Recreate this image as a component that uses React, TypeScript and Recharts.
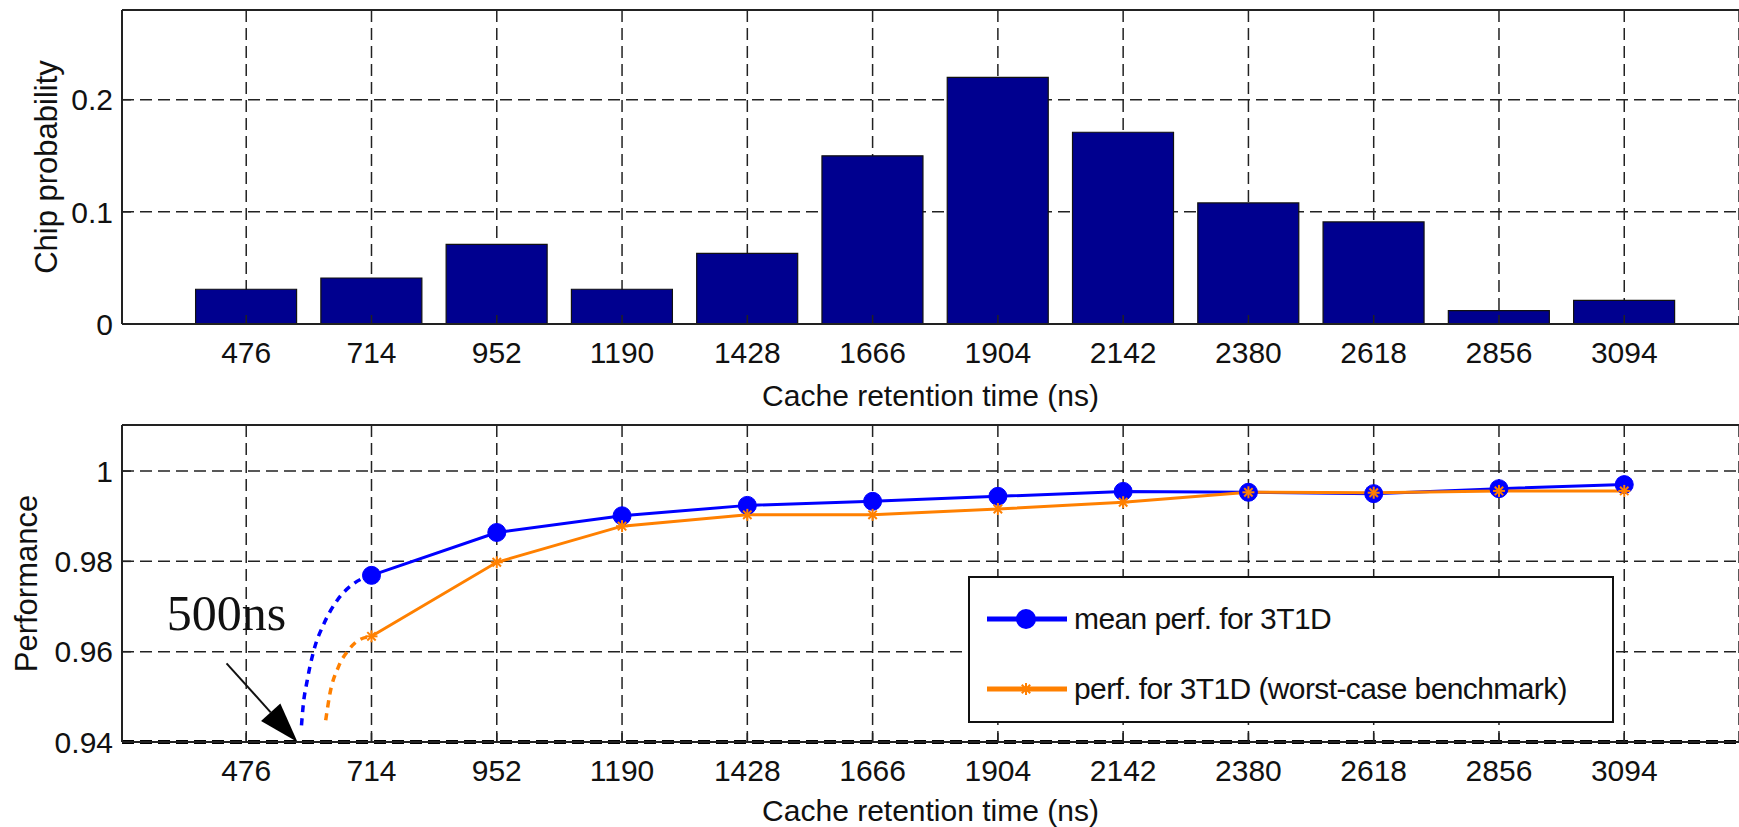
import React from "react";
import {
  BarChart,
  Bar,
  LineChart,
  Line,
  XAxis,
  YAxis,
  CartesianGrid,
  ReferenceLine,
  ReferenceDot,
  Legend,
} from "recharts";

// retention times (ns) used as tick positions on both panels
const RETENTION_TICKS = [476, 714, 952, 1190, 1428, 1666, 1904, 2142, 2380, 2618, 2856, 3094];
const CHIP_PROBABILITY = [0.031, 0.041, 0.071, 0.031, 0.063, 0.15, 0.22, 0.171, 0.108, 0.091, 0.012, 0.021];
const PROB_TICKS = [0, 0.1, 0.2];

const PERF_TIMES = [714, 952, 1190, 1428, 1666, 1904, 2142, 2380, 2618, 2856, 3094];
const MEAN_PERF = [0.9769, 0.9864, 0.9901, 0.9924, 0.9933, 0.9944, 0.9955, 0.9953, 0.995, 0.9961, 0.997];
const WORST_PERF = [0.9634, 0.9798, 0.9878, 0.9903, 0.9903, 0.9916, 0.9931, 0.9953, 0.9952, 0.9956, 0.9956];
const PERF_TICKS = [0.94, 0.96, 0.98, 1];

// dotted extrapolation down to the 500ns limit
const MEAN_TAIL_TIMES = [581, 584, 592, 604.5, 623.6, 649, 680.4, 714];
const MEAN_TAIL = [0.9437, 0.9478, 0.9537, 0.9603, 0.9662, 0.9714, 0.9751, 0.9769];
const WORST_TAIL_TIMES = [627, 635, 651, 670, 689, 714];
const WORST_TAIL = [0.9448, 0.9507, 0.9566, 0.9603, 0.9625, 0.9634];

// annotation
const NOTE_TEXT = "500ns";
const NOTE_AT = [325, 0.9647];
const ARROW_FROM = [438.6, 0.9574];
const ARROW_TO = [573.4, 0.94];

const X_DOMAIN = [240, 3312];
const FONT = "'Liberation Sans', Arial, Helvetica, sans-serif";
const INK = "#111";
const BLUE = "#0000ff";
const ORANGE = "#ff8000";
const GRID = { stroke: "#222", strokeDasharray: "12 6", strokeWidth: 1.5 };
const TICK_STYLE = { fill: INK, fontSize: 30, fontFamily: FONT };
const AXIS_LINE = { stroke: "#222", strokeWidth: 2 };
const TICK_LINE = { stroke: "#222", strokeWidth: 1.5 };

const barData = RETENTION_TICKS.map((t, i) => ({ t, p: CHIP_PROBABILITY[i] }));
const meanData = PERF_TIMES.map((t, i) => ({ t, v: MEAN_PERF[i] }));
const worstData = PERF_TIMES.map((t, i) => ({ t, v: WORST_PERF[i] }));
const meanTail = MEAN_TAIL_TIMES.map((t, i) => ({ t, v: MEAN_TAIL[i] }));
const worstTail = WORST_TAIL_TIMES.map((t, i) => ({ t, v: WORST_TAIL[i] }));

function xTitle(dy: number) {
  return (props: any) => {
    const vb = props.viewBox || { x: 122, y: 0, width: 1617, height: 0 };
    return (
      <text
        x={vb.x + vb.width / 2}
        y={vb.y + dy}
        textAnchor="middle"
        dominantBaseline="central"
        fill={INK}
        fontSize={30}
        fontFamily={FONT}
      >
        Cache retention time (ns)
      </text>
    );
  };
}

function yTitle(text: string, cxPos: number) {
  return (props: any) => {
    const vb = props.viewBox || { x: 0, y: 0, width: 122, height: 300 };
    const cy = vb.y + vb.height / 2;
    return (
      <text
        x={cxPos}
        y={cy}
        transform={`rotate(-90 ${cxPos} ${cy})`}
        textAnchor="middle"
        dominantBaseline="central"
        fill={INK}
        fontSize={31}
        fontFamily={FONT}
      >
        {text}
      </text>
    );
  };
}

function Asterisk({ cx, cy, size = 6 }: { cx?: number; cy?: number; size?: number }) {
  if (cx == null || cy == null) return null;
  const d = size * 0.7;
  return (
    <g stroke={ORANGE} strokeWidth={2}>
      <line x1={cx - size} y1={cy} x2={cx + size} y2={cy} />
      <line x1={cx} y1={cy - size} x2={cx} y2={cy + size} />
      <line x1={cx - d} y1={cy - d} x2={cx + d} y2={cy + d} />
      <line x1={cx - d} y1={cy + d} x2={cx + d} y2={cy - d} />
    </g>
  );
}

function Arrow(props: any) {
  const { x1, y1, x2, y2 } = props;
  if ([x1, y1, x2, y2].some((v) => v == null || isNaN(v))) return null;
  const dx = x2 - x1;
  const dy = y2 - y1;
  const len = Math.hypot(dx, dy) || 1;
  const ux = dx / len;
  const uy = dy / len;
  const bx = x2 - ux * 40;
  const by = y2 - uy * 40;
  const nx = -uy * 13;
  const ny = ux * 13;
  return (
    <g>
      <line x1={x1} y1={y1} x2={bx} y2={by} stroke={INK} strokeWidth={2} />
      <polygon points={`${x2},${y2} ${bx + nx},${by + ny} ${bx - nx},${by - ny}`} fill="#000" />
    </g>
  );
}

function LegendBox() {
  const row = (top: number, color: string, marker: React.ReactNode, label: string) => (
    <div style={{ position: "absolute", left: 0, top: top - 20, height: 40, display: "flex", alignItems: "center" }}>
      <svg width={104} height={40} style={{ display: "block" }}>
        <line x1={17} y1={20} x2={97} y2={20} stroke={color} strokeWidth={5} />
        {marker}
      </svg>
      <span style={{ fontFamily: FONT, fontSize: 30, color: INK, whiteSpace: "nowrap", letterSpacing: -0.6 }}>{label}</span>
    </div>
  );
  return (
    <div
      style={{
        position: "relative",
        width: 646,
        height: 147,
        boxSizing: "border-box",
        border: "2px solid #111",
        background: "#fff",
      }}
    >
      {row(41, BLUE, <circle cx={56} cy={20} r={10} fill={BLUE} />, "mean perf. for 3T1D")}
      {row(111, ORANGE, <Asterisk cx={56} cy={20} size={6} />, "perf. for 3T1D (worst-case benchmark)")}
    </div>
  );
}

export default function App() {
  return (
    <div style={{ position: "absolute", left: 0, top: 0, width: 1739, height: 827, background: "#fff", overflow: "hidden" }}>
      {/* Chip probability histogram */}
      <div style={{ position: "absolute", left: 0, top: 0 }}>
        <BarChart width={1739} height={412} data={barData} margin={{ top: 0, right: 0, bottom: 0, left: 0 }}>
          <CartesianGrid {...GRID} />
          <XAxis
            type="number"
            dataKey="t"
            domain={X_DOMAIN}
            ticks={RETENTION_TICKS}
            interval={0}
            allowDataOverflow
            height={88}
            tickLine={TICK_LINE}
            tickSize={-9}
            tickMargin={27}
            axisLine={AXIS_LINE}
            tick={TICK_STYLE}
            label={xTitle(71)}
          />
          <XAxis
            xAxisId="top"
            orientation="top"
            type="number"
            dataKey="t"
            domain={X_DOMAIN}
            ticks={RETENTION_TICKS}
            interval={0}
            allowDataOverflow
            height={10}
            tick={false}
            tickLine={TICK_LINE}
            tickSize={-9}
            axisLine={AXIS_LINE}
          />
          <YAxis
            type="number"
            domain={[0, 0.28]}
            ticks={PROB_TICKS}
            allowDataOverflow
            width={122}
            tickLine={TICK_LINE}
            tickSize={-9}
            tickMargin={18}
            axisLine={AXIS_LINE}
            tick={TICK_STYLE}
            tickFormatter={(v: number) => String(v)}
            label={yTitle("Chip probability", 46)}
          />
          <Bar dataKey="p" fill="#00008f" stroke="#111" strokeWidth={1.2} barSize={101} isAnimationActive={false} />
        </BarChart>
      </div>

      {/* Performance vs retention time */}
      <div style={{ position: "absolute", left: 0, top: 412 }}>
        <LineChart width={1739} height={415} margin={{ top: 0, right: 0, bottom: 0, left: 0 }}>
          <CartesianGrid {...GRID} />
          <XAxis
            type="number"
            dataKey="t"
            domain={X_DOMAIN}
            ticks={RETENTION_TICKS}
            interval={0}
            allowDataOverflow
            height={85}
            tickLine={TICK_LINE}
            tickSize={-9}
            tickMargin={27}
            axisLine={AXIS_LINE}
            tick={TICK_STYLE}
            label={xTitle(68)}
          />
          <XAxis
            xAxisId="top"
            orientation="top"
            type="number"
            dataKey="t"
            domain={X_DOMAIN}
            ticks={RETENTION_TICKS}
            interval={0}
            allowDataOverflow
            height={13}
            tick={false}
            tickLine={TICK_LINE}
            tickSize={-9}
            axisLine={AXIS_LINE}
          />
          <YAxis
            type="number"
            domain={[0.94, 1.0102]}
            ticks={PERF_TICKS}
            allowDataOverflow
            width={122}
            tickLine={TICK_LINE}
            tickSize={-9}
            tickMargin={18}
            axisLine={AXIS_LINE}
            tick={TICK_STYLE}
            tickFormatter={(v: number) => String(v)}
            label={yTitle("Performance", 26)}
          />
          <ReferenceLine y={0.94} stroke="#000" strokeWidth={4} strokeDasharray="12 6" />
          <Line
            data={meanTail}
            dataKey="v"
            type="monotone"
            stroke={BLUE}
            strokeWidth={3.5}
            strokeDasharray="7 6"
            dot={false}
            isAnimationActive={false}
            legendType="none"
          />
          <Line
            data={worstTail}
            dataKey="v"
            type="monotone"
            stroke={ORANGE}
            strokeWidth={3.5}
            strokeDasharray="7 6"
            dot={false}
            isAnimationActive={false}
            legendType="none"
          />
          <Line
            data={meanData}
            dataKey="v"
            name="mean perf. for 3T1D"
            type="linear"
            stroke={BLUE}
            strokeWidth={3}
            dot={{ r: 9, fill: BLUE, stroke: BLUE, strokeWidth: 1 }}
            isAnimationActive={false}
          />
          <Line
            data={worstData}
            dataKey="v"
            name="perf. for 3T1D (worst-case benchmark)"
            type="linear"
            stroke={ORANGE}
            strokeWidth={3}
            dot={(p: any) => <Asterisk key={`w-${p.index}`} cx={p.cx} cy={p.cy} />}
            isAnimationActive={false}
          />
          <ReferenceLine
            segment={[
              { x: ARROW_FROM[0], y: ARROW_FROM[1] },
              { x: ARROW_TO[0], y: ARROW_TO[1] },
            ]}
            shape={Arrow}
            ifOverflow="visible"
          />
          <ReferenceDot
            x={NOTE_AT[0]}
            y={NOTE_AT[1]}
            r={0}
            ifOverflow="visible"
            shape={(p: any) => (
              <text x={p.cx} y={p.cy} fill={INK} fontSize={50} fontFamily="'Liberation Serif', 'Times New Roman', serif">
                {NOTE_TEXT}
              </text>
            )}
          />
          <Legend
            layout="horizontal"
            verticalAlign="middle"
            align="center"
            content={() => <LegendBox />}
            wrapperStyle={{ position: "absolute", left: 968, top: 164, width: 646, height: 147 }}
          />
        </LineChart>
      </div>
    </div>
  );
}
